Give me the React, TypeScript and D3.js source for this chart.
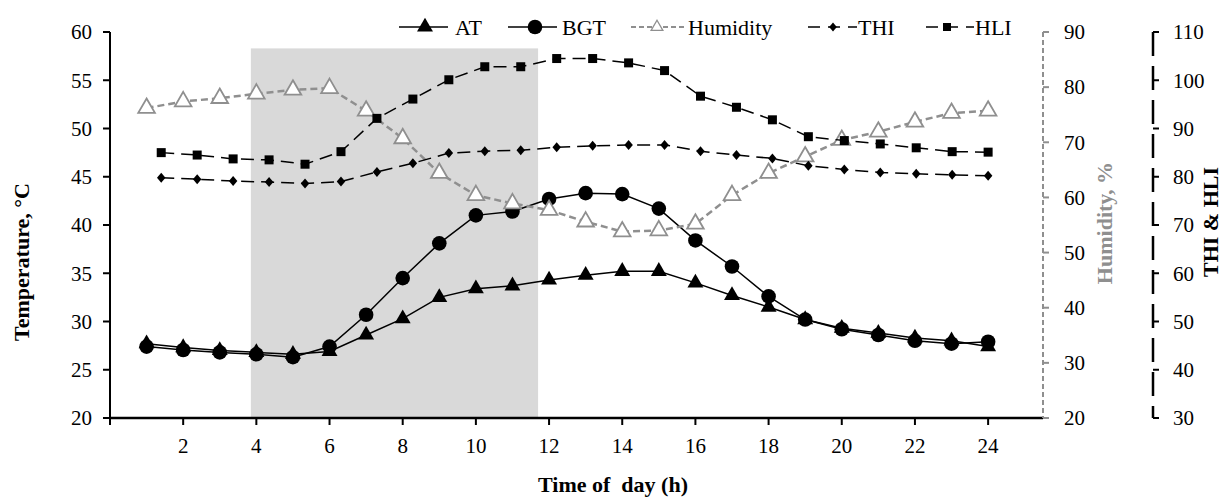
import React from "react";
import * as d3 from "d3";

const hours = [1,2,3,4,5,6,7,8,9,10,11,12,13,14,15,16,17,18,19,20,21,22,23,24];
const atValues = [27.7,27.3,27.0,26.8,26.6,26.9,28.6,30.3,32.5,33.4,33.7,34.3,34.8,35.2,35.2,34.0,32.7,31.5,30.2,29.3,28.8,28.3,28.0,27.4];
const bgtValues = [27.4,27.05,26.8,26.6,26.3,27.4,30.7,34.5,38.1,41.0,41.4,42.7,43.3,43.2,41.7,38.4,35.7,32.6,30.2,29.2,28.6,28.0,27.7,27.9];
const humidityValues = [76.2,77.4,78.0,78.8,79.5,79.8,75.7,70.7,64.4,60.4,58.9,57.7,55.6,53.8,54.0,55.2,60.4,64.4,67.4,70.4,71.9,73.7,75.3,75.7];
const thiValues = [79.8,79.5,79.1,78.9,78.6,79.0,81.0,82.8,84.9,85.3,85.5,86.1,86.4,86.6,86.6,85.3,84.5,83.8,82.3,81.5,80.9,80.6,80.4,80.2];
const hliValues = [85.0,84.5,83.7,83.5,82.6,85.2,92.1,96.1,100.1,102.8,102.8,104.5,104.5,103.6,102.0,96.7,94.4,91.8,88.3,87.5,86.8,86.0,85.2,85.1];
const xTicks = [0,2,4,6,8,10,12,14,16,18,20,22,24];
const tempTicks = [20,25,30,35,40,45,50,55,60];
const humTicks = [20,30,40,50,60,70,80,90];
const indexTicks = [30,40,50,60,70,80,90,100,110];
const shadeRange = [3.85, 11.7];
const shadeTop = 58.3;
const legendNames = ["AT", "BGT", "Humidity", "THI", "HLI"];

const FONT = "'Liberation Serif', 'Times New Roman', serif";
const GRAY = "#8f8f8f";
const TICK_FS = 21;
const TITLE_FS = 22;
const LEGEND_FS = 22;

export default function App() {
  const W = 1228, H = 498;
  const x = d3.scaleLinear().domain([0, 25.5]).range([110, 1043]);
  const x2 = d3.scaleLinear().domain([1, 24]).range([x(1.4), x(24)]);
  const yT = d3.scaleLinear().domain([20, 60]).range([418, 32]);
  const yH = d3.scaleLinear().domain([20, 90]).range([418, 32]);
  const yI = d3.scaleLinear().domain([30, 110]).range([418, 32]);

  const lineT = (vals: number[]) => d3.line<number>().x((_, i) => x(hours[i])).y((d) => yT(d))(vals) || "";
  const lineH = d3.line<number>().x((_, i) => x(hours[i])).y((d) => yH(d))(humidityValues) || "";
  const lineI = (vals: number[]) => d3.line<number>().x((_, i) => x2(hours[i])).y((d) => yI(d))(vals) || "";

  const triUp = d3.symbol().type(d3.symbolTriangle).size(110)() || "";
  const triHollow = d3.symbol().type(d3.symbolTriangle).size(120)() || "";
  const triLegend = d3.symbol().type(d3.symbolTriangle).size(60)() || "";
  const diamond = (s: number) => `M0,${-s}L${s * 0.85},0L0,${s}L${-s * 0.85},0Z`;

  const axisLeftX = x(0);
  const humAxisX = x(25.5);
  const idxAxisX = 1153;

  const legendY = 27;

  return (
    <svg width={W} height={H} style={{ position: "absolute", left: 0, top: 0, background: "#fff" }} fontFamily={FONT}>
      {/* shaded period */}
      <rect x={x(shadeRange[0])} y={yT(shadeTop)} width={x(shadeRange[1]) - x(shadeRange[0])} height={yT(20) - yT(shadeTop)} fill="#d9d9d9" />

      {/* AT */}
      <path d={lineT(atValues)} fill="none" stroke="#000" strokeWidth={1.5} />
      {atValues.map((v, i) => (
        <path key={"at" + i} d={triUp} transform={`translate(${x(hours[i])},${yT(v)})`} fill="#000" />
      ))}
      {/* BGT */}
      <path d={lineT(bgtValues)} fill="none" stroke="#000" strokeWidth={1.5} />
      {bgtValues.map((v, i) => (
        <circle key={"bgt" + i} cx={x(hours[i])} cy={yT(v)} r={7.3} fill="#000" />
      ))}
      {/* Humidity */}
      <path d={lineH} fill="none" stroke={GRAY} strokeWidth={2.5} strokeDasharray="7,4" />
      {humidityValues.map((v, i) => (
        <path key={"h" + i} d={triHollow} transform={`translate(${x(hours[i])},${yH(v)})`} fill="#fff" stroke={GRAY} strokeWidth={1.8} />
      ))}
      {/* THI */}
      <path d={lineI(thiValues)} fill="none" stroke="#000" strokeWidth={1.5} strokeDasharray="13,7" />
      {thiValues.map((v, i) => (
        <path key={"thi" + i} d={diamond(5)} transform={`translate(${x2(hours[i])},${yI(v)})`} fill="#000" />
      ))}
      {/* HLI */}
      <path d={lineI(hliValues)} fill="none" stroke="#000" strokeWidth={1.5} strokeDasharray="13,7" />
      {hliValues.map((v, i) => (
        <rect key={"hli" + i} x={x2(hours[i]) - 4.5} y={yI(v) - 4.5} width={9} height={9} fill="#000" />
      ))}

      {/* Left axis */}
      <line x1={axisLeftX} x2={axisLeftX} y1={yT(60)} y2={yT(20)} stroke="#000" strokeWidth={2} />
      {tempTicks.map((t) => (
        <g key={"tt" + t}>
          <line x1={axisLeftX - 7} x2={axisLeftX} y1={yT(t)} y2={yT(t)} stroke="#000" strokeWidth={2} />
          <text x={axisLeftX - 18} y={yT(t)} dy="0.35em" textAnchor="end" fontSize={TICK_FS}>{t}</text>
        </g>
      ))}
      {/* X axis */}
      <line x1={x(0) - 1} x2={humAxisX} y1={yT(20)} y2={yT(20)} stroke="#000" strokeWidth={2.5} />
      {xTicks.map((t) => (
        <g key={"xt" + t}>
          <line x1={x(t)} x2={x(t)} y1={yT(20)} y2={yT(20) + 7} stroke="#000" strokeWidth={2} />
          {t > 0 && (
            <text x={x(t)} y={yT(20) + 35} textAnchor="middle" fontSize={TICK_FS}>{t}</text>
          )}
        </g>
      ))}

      {/* Humidity axis */}
      <line x1={humAxisX} x2={humAxisX} y1={yH(90)} y2={yH(20)} stroke={GRAY} strokeWidth={2} strokeDasharray="5,3" />
      {humTicks.map((t) => (
        <g key={"ht" + t}>
          <line x1={humAxisX} x2={humAxisX + 6} y1={yH(t)} y2={yH(t)} stroke={GRAY} strokeWidth={2} />
          <text x={humAxisX + 21} y={yH(t)} dy="0.35em" fontSize={TICK_FS}>{t}</text>
        </g>
      ))}

      {/* THI & HLI axis */}
      <line x1={idxAxisX} x2={idxAxisX} y1={yI(110)} y2={yI(30)} stroke="#000" strokeWidth={2.5} strokeDasharray="24,10" />
      {indexTicks.map((t) => (
        <g key={"it" + t}>
          <line x1={idxAxisX} x2={idxAxisX + 6} y1={yI(t)} y2={yI(t)} stroke="#000" strokeWidth={2} />
          <text x={idxAxisX + 20} y={yI(t)} dy="0.35em" fontSize={TICK_FS}>{t}</text>
        </g>
      ))}

      {/* Axis titles */}
      <text transform={`translate(29,262) rotate(-90)`} textAnchor="middle" fontSize={TITLE_FS} fontWeight="bold">Temperature, °C</text>
      <text transform={`translate(1112,223) rotate(-90)`} textAnchor="middle" fontSize={TITLE_FS} fontWeight="bold" fill={GRAY}>Humidity, %</text>
      <text transform={`translate(1218,222) rotate(-90)`} textAnchor="middle" fontSize={TITLE_FS} fontWeight="bold">THI &amp; HLI</text>
      <text x={613} y={492} textAnchor="middle" fontSize={TITLE_FS} fontWeight="bold" style={{ whiteSpace: "pre" }}>Time of  day (h)</text>

      {/* Legend */}
      <g>
        <line x1={399} x2={448} y1={legendY} y2={legendY} stroke="#000" strokeWidth={1.5} />
        <path d={triUp} transform={`translate(425,${legendY})`} fill="#000" />
        <text x={455} y={legendY} dy="0.35em" fontSize={LEGEND_FS}>{legendNames[0]}</text>

        <line x1={508} x2={557} y1={legendY} y2={legendY} stroke="#000" strokeWidth={1.5} />
        <circle cx={535} cy={legendY} r={7.3} fill="#000" />
        <text x={562} y={legendY} dy="0.35em" fontSize={LEGEND_FS}>{legendNames[1]}</text>

        <line x1={631} x2={685} y1={legendY} y2={legendY} stroke={GRAY} strokeWidth={2} strokeDasharray="5,3" />
        <path d={triLegend} transform={`translate(657,${legendY})`} fill="#fff" stroke={GRAY} strokeWidth={1.3} />
        <text x={688} y={legendY} dy="0.35em" fontSize={LEGEND_FS}>{legendNames[2]}</text>

        <line x1={808} x2={857} y1={legendY} y2={legendY} stroke="#000" strokeWidth={1.5} strokeDasharray="12,8" />
        <path d={diamond(4.5)} transform={`translate(833,${legendY})`} fill="#000" />
        <text x={858} y={legendY} dy="0.35em" fontSize={LEGEND_FS}>{legendNames[3]}</text>

        <line x1={926} x2={974} y1={legendY} y2={legendY} stroke="#000" strokeWidth={1.5} strokeDasharray="12,8" />
        <rect x={943} y={legendY - 4} width={8} height={8} fill="#000" />
        <text x={975} y={legendY} dy="0.35em" fontSize={LEGEND_FS}>{legendNames[4]}</text>
      </g>
    </svg>
  );
}
